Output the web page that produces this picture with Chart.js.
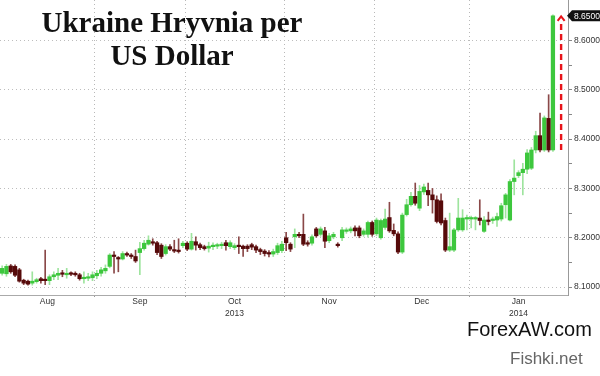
<!DOCTYPE html>
<html>
<head>
<meta charset="utf-8">
<script src="https://cdn.jsdelivr.net/npm/chart.js@4"></script>
<style>
  html, body { margin: 0; padding: 0; background: #fff; }
  #wrap { position: relative; width: 600px; height: 376px; overflow: hidden; }
  #wrap canvas { position: absolute; left: 0; top: 0; }
  .title {
    position: absolute; left: 0; top: 6px; width: 344px; text-align: center;
    font-family: "Liberation Serif", "DejaVu Serif", serif; font-weight: bold;
    font-size: 29px; line-height: 33px; color: #111;
  }
  .brand { position: absolute; font-family: "Liberation Sans", Arial, sans-serif; white-space: nowrap; }
  #forex { left: 467px; top: 318px; font-size: 20px; color: #111; }
  #fishki { left: 510px; top: 349px; font-size: 17px; color: #666; }
</style>
</head>
<body>
<div id="wrap">
  <canvas id="chart" width="600" height="376"></canvas>
  <div class="title">Ukraine Hryvnia per<br>US Dollar</div>
  <div class="brand" id="forex">ForexAW.com</div>
  <div class="brand" id="fishki">Fishki.net</div>
</div>
<script>
// ── Daily candles, UAH per USD, Aug 2013 – Jan 2014 ──
const opens = [
  8.128, 8.127, 8.143, 8.142, 8.135, 8.114, 8.112, 8.108, 8.111, 8.117,
  8.116, 8.113, 8.121, 8.124, 8.128, 8.125, 8.128, 8.128, 8.125, 8.117,
  8.118, 8.119, 8.123, 8.128, 8.133, 8.142, 8.165, 8.159, 8.157, 8.168,
  8.165, 8.162, 8.170, 8.178, 8.187, 8.192, 8.190, 8.185, 8.168, 8.182,
  8.176, 8.175, 8.184, 8.189, 8.177, 8.192, 8.186, 8.182, 8.179, 8.182,
  8.183, 8.184, 8.190, 8.182, 8.180, 8.185, 8.183, 8.183, 8.186, 8.182,
  8.176, 8.173, 8.170, 8.167, 8.170, 8.174, 8.200, 8.187, 8.202, 8.207,
  8.207, 8.190, 8.189, 8.218, 8.207, 8.214, 8.194, 8.202, 8.187, 8.200,
  8.213, 8.214, 8.220, 8.220, 8.207, 8.207, 8.231, 8.208, 8.200, 8.221,
  8.241, 8.215, 8.208, 8.171, 8.247, 8.267, 8.284, 8.260, 8.293, 8.296,
  8.287, 8.277, 8.275, 8.235, 8.175, 8.175, 8.216, 8.216, 8.238, 8.238,
  8.238, 8.240, 8.213, 8.235, 8.235, 8.236, 8.238, 8.267, 8.236, 8.314,
  8.326, 8.332, 8.339, 8.341, 8.378, 8.407, 8.378, 8.442, 8.378
];
const highs = [
  8.143, 8.146, 8.146, 8.145, 8.138, 8.116, 8.114, 8.131, 8.118, 8.120,
  8.175, 8.125, 8.131, 8.138, 8.134, 8.138, 8.131, 8.131, 8.128, 8.131,
  8.128, 8.131, 8.134, 8.140, 8.145, 8.168, 8.172, 8.162, 8.172, 8.171,
  8.168, 8.175, 8.191, 8.195, 8.204, 8.198, 8.193, 8.188, 8.186, 8.186,
  8.195, 8.198, 8.193, 8.192, 8.209, 8.202, 8.189, 8.185, 8.191, 8.190,
  8.189, 8.191, 8.195, 8.194, 8.188, 8.202, 8.185, 8.186, 8.189, 8.185,
  8.179, 8.176, 8.174, 8.177, 8.189, 8.193, 8.211, 8.190, 8.218, 8.211,
  8.248, 8.194, 8.206, 8.221, 8.222, 8.221, 8.209, 8.211, 8.190, 8.221,
  8.220, 8.222, 8.224, 8.224, 8.218, 8.234, 8.234, 8.240, 8.238, 8.258,
  8.272, 8.228, 8.212, 8.250, 8.278, 8.292, 8.311, 8.306, 8.309, 8.311,
  8.300, 8.285, 8.289, 8.240, 8.250, 8.219, 8.280, 8.257, 8.246, 8.244,
  8.243, 8.277, 8.243, 8.252, 8.242, 8.250, 8.270, 8.290, 8.318, 8.358,
  8.336, 8.351, 8.379, 8.383, 8.416, 8.453, 8.447, 8.490, 8.652
];
const lows = [
  8.124, 8.122, 8.128, 8.121, 8.110, 8.105, 8.104, 8.104, 8.108, 8.108,
  8.105, 8.105, 8.115, 8.115, 8.121, 8.118, 8.123, 8.122, 8.114, 8.108,
  8.113, 8.113, 8.117, 8.122, 8.128, 8.139, 8.128, 8.131, 8.155, 8.162,
  8.158, 8.150, 8.125, 8.175, 8.185, 8.185, 8.166, 8.158, 8.165, 8.174,
  8.170, 8.169, 8.180, 8.174, 8.175, 8.175, 8.176, 8.175, 8.171, 8.176,
  8.178, 8.178, 8.175, 8.178, 8.176, 8.168, 8.162, 8.172, 8.176, 8.170,
  8.166, 8.163, 8.161, 8.162, 8.166, 8.170, 8.174, 8.172, 8.180, 8.200,
  8.184, 8.183, 8.185, 8.201, 8.203, 8.180, 8.190, 8.198, 8.181, 8.194,
  8.209, 8.210, 8.204, 8.200, 8.203, 8.201, 8.203, 8.204, 8.197, 8.217,
  8.211, 8.204, 8.168, 8.168, 8.244, 8.264, 8.266, 8.255, 8.288, 8.265,
  8.250, 8.230, 8.226, 8.172, 8.172, 8.172, 8.213, 8.213, 8.216, 8.220,
  8.216, 8.226, 8.211, 8.226, 8.229, 8.223, 8.234, 8.240, 8.234, 8.287,
  8.322, 8.287, 8.330, 8.338, 8.372, 8.374, 8.375, 8.374, 8.375
];
const closes = [
  8.138, 8.142, 8.131, 8.124, 8.112, 8.108, 8.106, 8.112, 8.115, 8.113,
  8.113, 8.121, 8.125, 8.128, 8.126, 8.128, 8.126, 8.125, 8.117, 8.119,
  8.121, 8.125, 8.128, 8.135, 8.138, 8.165, 8.162, 8.157, 8.168, 8.165,
  8.162, 8.153, 8.178, 8.189, 8.195, 8.189, 8.170, 8.162, 8.182, 8.177,
  8.173, 8.172, 8.189, 8.177, 8.193, 8.185, 8.180, 8.178, 8.183, 8.185,
  8.185, 8.187, 8.184, 8.190, 8.184, 8.182, 8.178, 8.178, 8.181, 8.175,
  8.172, 8.168, 8.167, 8.172, 8.184, 8.187, 8.190, 8.177, 8.207, 8.204,
  8.187, 8.187, 8.202, 8.204, 8.218, 8.193, 8.204, 8.207, 8.184, 8.216,
  8.216, 8.218, 8.214, 8.204, 8.214, 8.231, 8.207, 8.236, 8.235, 8.238,
  8.214, 8.208, 8.171, 8.246, 8.267, 8.284, 8.270, 8.294, 8.303, 8.287,
  8.277, 8.233, 8.230, 8.175, 8.182, 8.216, 8.240, 8.240, 8.241, 8.241,
  8.241, 8.235, 8.236, 8.233, 8.238, 8.243, 8.265, 8.287, 8.314, 8.321,
  8.332, 8.339, 8.372, 8.378, 8.407, 8.378, 8.443, 8.378, 8.650
];

// month axis: trading-day index where each month begins (last entry = end of Jan)
const monthNames  = ['Aug', 'Sep', 'Oct', 'Nov', 'Dec', 'Jan'];
const monthYears  = ['', '', '2013', '', '', '2014'];
const monthStarts = [0, 22, 43, 66, 87, 109, 132];

const priceTicks = [8.10, 8.15, 8.20, 8.25, 8.30, 8.35, 8.40, 8.45, 8.50, 8.55, 8.60];

// ── colours ──
const UP = '#3dc73d', DOWN = '#560a0a';
const UP_WICK = '#9ee49e', DOWN_WICK = '#8a4848';

const isUp = i => closes[i] >= opens[i];

const bodies = closes.map((c, i) => ({ x: i, y: [opens[i], c] }));
const wicks  = closes.map((c, i) => ({ x: i, y: [lows[i], highs[i]] }));

// month boundaries + label centres as x ticks
const boundaries = monthStarts.slice(1, -1).map(s => s - 0.5);
const centres = monthNames.map((m, k) => (monthStarts[k] + monthStarts[k + 1] - 1) / 2);
const labelAt = {};
centres.forEach((c, k) => {
  labelAt[c] = monthYears[k] ? [monthNames[k], monthYears[k]] : monthNames[k];
});

// dashed arrow + last price flag
const lastMove = {
  id: 'lastMove',
  afterDatasetsDraw(chart) {
    const { ctx, scales: { x, y }, chartArea } = chart;
    const n = closes.length - 1;
    const ax = x.getPixelForValue(n + 1.9);
    const y0 = y.getPixelForValue(opens[n]);
    const y1 = y.getPixelForValue(closes[n]);
    ctx.save();
    ctx.strokeStyle = '#e8141a';
    ctx.lineWidth = 2.4;
    ctx.setLineDash([6, 4]);
    ctx.beginPath();
    ctx.moveTo(ax, y0);
    ctx.lineTo(ax, y1 + 5);
    ctx.stroke();
    ctx.setLineDash([]);
    ctx.lineWidth = 2;
    ctx.beginPath();
    ctx.moveTo(ax - 3.5, y1 + 5);
    ctx.lineTo(ax, y1 + 0.5);
    ctx.lineTo(ax + 3.5, y1 + 5);
    ctx.stroke();

    // price flag on the axis
    const fx = chartArea.right;
    ctx.fillStyle = '#111';
    ctx.beginPath();
    ctx.moveTo(fx - 1, y1);
    ctx.lineTo(fx + 4, y1 - 5.5);
    ctx.lineTo(600, y1 - 5.5);
    ctx.lineTo(600, y1 + 5.5);
    ctx.lineTo(fx + 4, y1 + 5.5);
    ctx.closePath();
    ctx.fill();
    ctx.fillStyle = '#fff';
    ctx.font = '8.5px "Liberation Sans", Arial, sans-serif';
    ctx.textBaseline = 'middle';
    ctx.fillText(closes[n].toFixed(4), fx + 6, y1 + 0.5);
    ctx.restore();
  }
};

new Chart(document.getElementById('chart'), {
  type: 'bar',
  data: {
    datasets: [
      {
        data: bodies,
        backgroundColor: closes.map((c, i) => isUp(i) ? UP : DOWN),
        barThickness: 3.6,
        minBarLength: 1.5,
        grouped: false,
        order: 0
      },
      {
        data: wicks,
        backgroundColor: closes.map((c, i) => isUp(i) ? UP_WICK : DOWN_WICK),
        barThickness: 1,
        grouped: false,
        order: 1
      }
    ]
  },
  options: {
    responsive: false,
    animation: false,
    layout: { padding: 0 },
    plugins: { legend: { display: false }, tooltip: { enabled: false } },
    scales: {
      x: {
        type: 'linear',
        min: -0.5,
        max: 131.5,
        offset: false,
        afterBuildTicks: s => { s.ticks = [...boundaries, ...centres].sort((a, b) => a - b).map(v => ({ value: v })); },
        afterFit: s => { s.height = 81; s.paddingLeft = 0; s.paddingRight = 0; },
        grid: {
          offset: false,
          color: c => boundaries.includes(c.tick && c.tick.value) ? '#b8b8b8' : 'rgba(0,0,0,0)',
          tickColor: c => boundaries.includes(c.tick && c.tick.value) ? '#999' : 'rgba(0,0,0,0)',
          tickLength: 2,
          lineWidth: 1
        },
        border: { color: '#aaa', width: 1, dash: [1, 3] },
        ticks: {
          autoSkip: false,
          maxRotation: 0,
          padding: -1,
          color: '#333',
          font: { family: '"Liberation Sans", Arial, sans-serif', size: 8.5, lineHeight: 1.35 },
          callback: v => labelAt[v] !== undefined ? labelAt[v] : ''
        }
      },
      y: {
        position: 'right',
        min: 8.084,
        max: 8.682,
        beginAtZero: false,
        afterBuildTicks: s => { s.ticks = priceTicks.map(v => ({ value: v })); },
        afterFit: s => { s.width = 32; s.paddingTop = 0; s.paddingBottom = 0; },
        grid: {
          color: c => (c.tick && Math.round(c.tick.value * 100) % 10 === 0) ? '#bdbdbd' : 'rgba(0,0,0,0)',
          tickColor: '#888',
          tickLength: 4,
          lineWidth: 1
        },
        border: { color: '#999', width: 1, dash: [1, 3] },
        ticks: {
          padding: 2,
          color: '#333',
          font: { family: '"Liberation Sans", Arial, sans-serif', size: 8.5 },
          callback: v => Math.round(v * 100) % 10 === 0 ? v.toFixed(4) : ''
        }
      }
    }
  },
  plugins: [lastMove]
});
</script>
</body>
</html>
